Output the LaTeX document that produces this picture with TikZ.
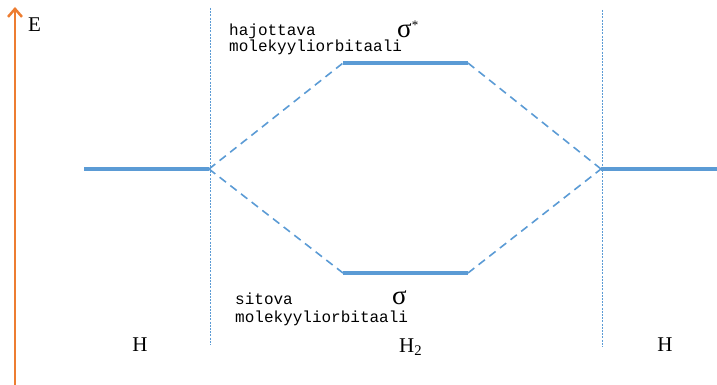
\documentclass[tikz,border=0pt]{standalone}
\usepackage{fontspec}
\setmainfont{Liberation Serif}
\newfontfamily\monofont{Liberation Mono}
\usetikzlibrary{arrows.meta}
\definecolor{lvlblue}{HTML}{5B9BD5}
\definecolor{axorange}{HTML}{ED7D31}
\tikzset{
  level/.style={draw=lvlblue, line width=3.5pt},
  corr/.style={draw=lvlblue, line width=1.6pt, dash pattern=on 8pt off 5.5pt},
  divider/.style={draw=lvlblue, line width=0.8pt, dash pattern=on 2pt off 1.2pt},
  axis/.style={draw=axorange, line width=2.5pt, -{Straight Barb[length=8pt,width=14pt,line width=2.5pt]}},
  atomlbl/.style={font=\fontsize{21}{24}\selectfont, inner sep=0pt},
  mono/.style={font=\monofont\fontsize{16}{16}\selectfont, inner sep=0pt, anchor=base west},
  sig/.style={font=\fontsize{27}{28}\selectfont, inner sep=0pt, anchor=base west}
}
\begin{document}
\begin{tikzpicture}[x=1pt, y=-1pt]
  \useasboundingbox (0,0) rectangle (717,385);

  % energy axis
  \coordinate (axbot) at (15,385);
  \coordinate (axtop) at (15,7);
  \draw[axis] (axbot) -- (axtop);
  \node[atomlbl, anchor=base west] (E) at (28,32) {E};

  % column dividers
  \coordinate (d1t) at (210,8);  \coordinate (d1b) at (210,345);
  \coordinate (d2t) at (602,10); \coordinate (d2b) at (602,347);
  \draw[divider] (d1t) -- (d1b);
  \draw[divider] (d2t) -- (d2b);

  % atomic and molecular levels
  \coordinate (hl1) at (84,169);  \coordinate (hl2) at (209,169);
  \coordinate (hr1) at (601,169); \coordinate (hr2) at (717,169);
  \coordinate (as1) at (343,63);  \coordinate (as2) at (468,63);
  \coordinate (bs1) at (343,273); \coordinate (bs2) at (468,273);
  \draw[level] (hl1) -- (hl2);
  \draw[level] (hr1) -- (hr2);
  \draw[level] (as1) -- (as2);
  \draw[level] (bs1) -- (bs2);

  % correlation lines
  \draw[corr] (hl2) -- (as1);
  \draw[corr] (hl2) -- (bs1);
  \draw[corr] (as2) -- (hr1);
  \draw[corr] (bs2) -- (hr1);

  % orbital labels
  \node[mono] (antib1) at (229,36) {hajottava};
  \node[mono] (antib2) at (229,52) {molekyyliorbitaali};
  \node[sig] (sigs) at (397,38) {σ\raisebox{8pt}{\fontsize{13}{13}\selectfont *}};
  \node[mono] (bond1) at (235,304) {sitova};
  \node[mono] (bond2) at (235,322) {molekyyliorbitaali};
  \node[sig] (sigb) at (392,304) {σ};

  % atom and molecule labels
  \node[atomlbl, anchor=base] (hleft) at (140,351) {H};
  \node[atomlbl, anchor=base west] (h2) at (399,352) {H\textsubscript{2}};
  \node[atomlbl, anchor=base] (hright) at (665,351) {H};
\end{tikzpicture}
\end{document}
